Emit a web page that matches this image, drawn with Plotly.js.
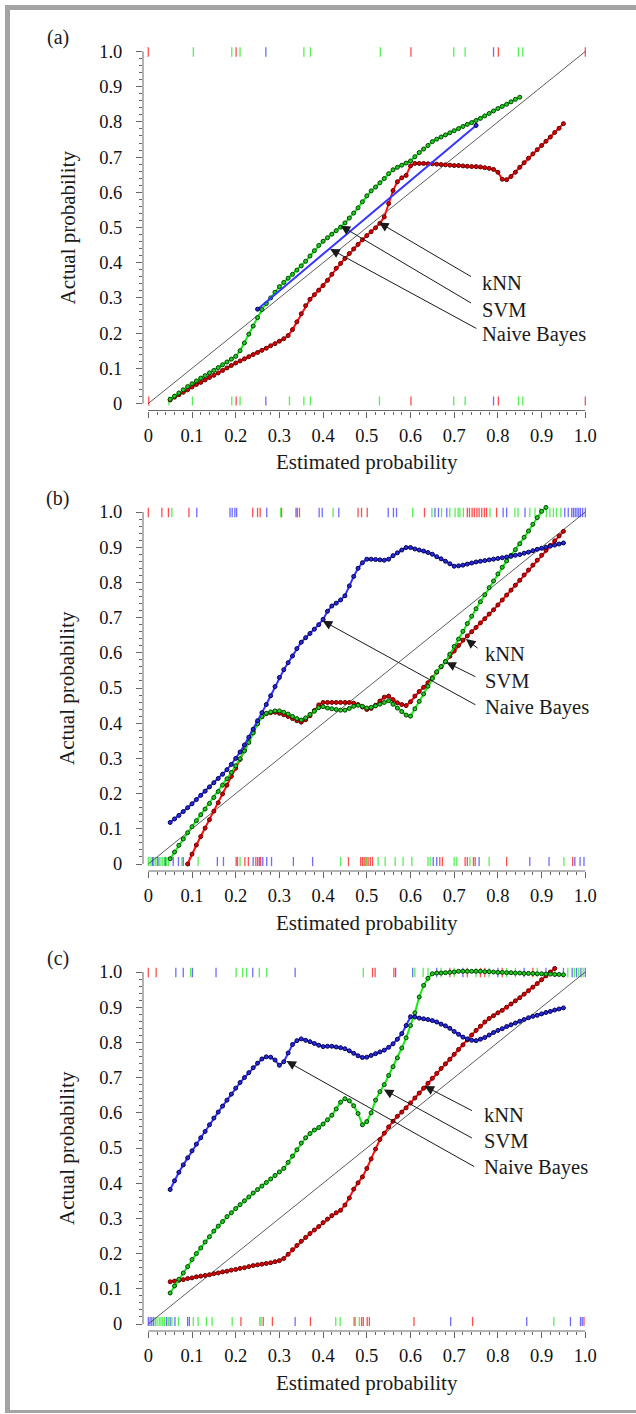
<!DOCTYPE html>
<html><head><meta charset="utf-8">
<script src="https://cdn.plot.ly/plotly-3.0.1.min.js"></script>
<style>html,body{margin:0;padding:0;background:#fff;} #chart{width:636px;height:1414px;}</style>
</head><body><div id="chart"></div>
<script>
// ---------------- DATA ----------------
const xGrid=[0.05,0.06,0.07,0.08,0.09,0.10,0.11,0.12,0.13,0.14,
0.15,0.16,0.17,0.18,0.19,0.20,0.21,0.22,0.23,0.24,
0.25,0.26,0.27,0.28,0.29,0.30,0.31,0.32,0.33,0.34,
0.35,0.36,0.37,0.38,0.39,0.40,0.41,0.42,0.43,0.44,
0.45,0.46,0.47,0.48,0.49,0.50,0.51,0.52,0.53,0.54,
0.55,0.56,0.57,0.58,0.59,0.60,0.61,0.62,0.63,0.64,
0.65,0.66,0.67,0.68,0.69,0.70,0.71,0.72,0.73,0.74,
0.75,0.76,0.77,0.78,0.79,0.80,0.81,0.82,0.83,0.84,
0.85,0.86,0.87,0.88,0.89,0.90,0.91,0.92,0.93,0.94,0.95];

const tickVals=[0,0.1,0.2,0.3,0.4,0.5,0.6,0.7,0.8,0.9,1.0];
const tickText=['0','0.1','0.2','0.3','0.4','0.5','0.6','0.7','0.8','0.9','1.0'];
const seriesNames=['kNN','SVM','Naive Bayes'];
const panelLabels=['(a)','(b)','(c)'];
const xTitle='Estimated probability';
const yTitle='Actual probability';

// Panel (a)
const aKNN=[0.010,0.018,0.025,0.032,0.039,0.047,0.054,0.060,0.067,0.074,
0.080,0.087,0.094,0.101,0.108,0.115,0.121,0.127,0.133,0.139,
0.145,0.151,0.157,0.164,0.170,0.177,0.184,0.193,0.210,0.232,
0.255,0.278,0.296,0.309,0.322,0.335,0.350,0.367,0.384,0.398,
0.412,0.426,0.439,0.452,0.465,0.477,0.488,0.499,0.512,0.530,
0.568,0.605,0.630,0.641,0.648,0.675,0.682,0.682,0.682,0.681,
0.681,0.680,0.679,0.678,0.677,0.676,0.676,0.675,0.674,0.673,
0.673,0.672,0.670,0.668,0.665,0.657,0.637,0.636,0.645,0.657,
0.671,0.684,0.697,0.709,0.721,0.733,0.745,0.757,0.770,0.782,0.795];
const aSVM=[0.012,0.021,0.030,0.039,0.048,0.056,0.064,0.072,0.079,0.087,
0.094,0.102,0.110,0.118,0.126,0.134,0.150,0.172,0.197,0.220,
0.244,0.267,0.284,0.300,0.316,0.332,0.344,0.356,0.367,0.379,
0.391,0.404,0.419,0.434,0.449,0.461,0.471,0.481,0.491,0.501,
0.513,0.527,0.541,0.556,0.573,0.590,0.604,0.615,0.627,0.639,
0.653,0.664,0.671,0.677,0.683,0.689,0.701,0.713,0.723,0.733,
0.744,0.751,0.757,0.763,0.769,0.775,0.781,0.787,0.793,0.798,
0.804,0.810,0.817,0.824,0.831,0.838,0.844,0.850,0.857,0.864,
0.870,null,null,null,null,null,null,null,null,null,null];
const aNBx=[0.25,0.75];
const aNBy=[0.268,0.790];

// Panel (b)
const bNB=[0.118,0.128,0.138,0.149,0.160,0.171,0.183,0.195,0.207,0.219,
0.231,0.243,0.255,0.268,0.283,0.300,0.318,0.338,0.360,0.383,
0.407,0.430,0.453,0.478,0.504,0.530,0.552,0.572,0.591,0.612,
0.630,0.643,0.655,0.667,0.680,0.695,0.718,0.733,0.741,0.750,
0.762,0.790,0.817,0.840,0.856,0.866,0.866,0.865,0.864,0.863,
0.866,0.876,0.884,0.892,0.899,0.899,0.895,0.892,0.889,0.885,
0.880,0.873,0.867,0.860,0.853,0.846,0.847,0.849,0.852,0.855,
0.858,0.860,0.862,0.864,0.866,0.868,0.870,0.872,0.874,0.877,
0.879,0.883,0.886,0.890,0.894,0.897,0.900,0.903,0.906,0.909,0.912];
const bKNN=[null,null,null,null,0.000,0.028,0.054,0.078,0.102,0.126,
0.150,0.174,0.199,0.224,0.249,0.272,0.297,0.323,0.350,0.377,
0.402,0.418,0.427,0.430,0.431,0.428,0.424,0.419,0.413,0.407,
0.403,0.410,0.421,0.436,0.452,0.459,0.459,0.459,0.459,0.459,
0.459,0.459,0.457,0.453,0.446,0.439,0.442,0.451,0.463,0.474,
0.477,0.467,0.458,0.453,0.450,0.461,0.477,0.490,0.502,0.515,
0.529,0.545,0.560,0.575,0.590,0.605,0.621,0.636,0.648,0.660,
0.672,0.685,0.697,0.710,0.722,0.736,0.750,0.764,0.778,0.792,
0.806,0.821,0.835,0.849,0.863,0.877,0.891,0.905,0.918,0.932,0.945];
const bSVM=[0.015,0.034,0.053,0.071,0.089,0.106,0.123,0.140,0.156,0.172,
0.189,0.206,0.224,0.242,0.260,0.279,0.299,0.321,0.345,0.372,
0.398,0.419,0.428,0.432,0.435,0.435,0.431,0.426,0.419,0.413,
0.409,0.415,0.425,0.434,0.444,0.447,0.443,0.441,0.439,0.437,
0.437,0.442,0.448,0.451,0.448,0.443,0.445,0.449,0.454,0.459,
0.464,0.454,0.443,0.433,0.423,0.420,0.441,0.462,0.483,0.505,
0.527,0.546,0.561,0.575,0.596,0.618,0.639,0.661,0.683,0.704,
0.725,0.745,0.765,0.785,0.804,0.824,0.843,0.861,0.877,0.893,
0.910,0.928,0.946,0.965,0.984,1.002,1.013,null,null,null,null];

// Panel (c)
const cNB=[0.382,0.407,0.431,0.452,0.472,0.492,0.511,0.529,0.547,0.566,
0.585,0.602,0.619,0.636,0.653,0.670,0.686,0.700,0.714,0.728,
0.741,0.753,0.759,0.758,0.750,0.735,0.745,0.770,0.794,0.805,
0.810,0.806,0.802,0.797,0.792,0.788,0.789,0.789,0.787,0.785,
0.782,0.776,0.769,0.762,0.757,0.758,0.763,0.768,0.773,0.778,
0.786,0.796,0.809,0.825,0.848,0.873,0.872,0.869,0.867,0.865,
0.862,0.858,0.852,0.847,0.840,0.831,0.823,0.815,0.810,0.806,
0.805,0.809,0.814,0.821,0.828,0.834,0.839,0.845,0.850,0.855,
0.860,0.865,0.870,0.874,0.877,0.881,0.885,0.888,0.892,0.895,0.898];
const cSVM=[0.088,0.108,0.127,0.145,0.163,0.183,0.200,0.216,0.233,0.248,
0.264,0.278,0.291,0.305,0.316,0.328,0.339,0.350,0.361,0.372,
0.382,0.392,0.402,0.412,0.422,0.432,0.442,0.459,0.477,0.495,
0.514,0.529,0.541,0.551,0.558,0.568,0.580,0.593,0.611,0.630,
0.640,0.634,0.620,0.598,0.566,0.575,0.600,0.636,0.660,0.680,
0.706,0.731,0.756,0.784,0.813,0.848,0.884,0.929,0.962,0.982,
0.995,0.997,0.997,0.998,0.999,1.000,1.002,1.002,1.002,1.002,
1.002,1.002,1.001,1.001,1.000,0.999,0.999,0.998,0.998,0.997,
0.997,0.996,0.996,0.996,0.995,0.995,0.994,0.994,0.993,0.993,0.992];
const cKNN=[0.120,0.122,0.124,0.126,0.129,0.131,0.134,0.136,0.138,0.140,
0.143,0.145,0.148,0.150,0.153,0.155,0.158,0.160,0.163,0.166,
0.168,0.170,0.172,0.174,0.177,0.180,0.186,0.198,0.211,0.223,
0.235,0.246,0.257,0.267,0.277,0.288,0.298,0.308,0.316,0.323,
0.338,0.358,0.383,0.401,0.418,0.442,0.469,0.497,0.524,0.542,
0.560,0.576,0.590,0.602,0.614,0.628,0.642,0.656,0.670,0.684,
0.698,0.712,0.726,0.739,0.752,0.766,0.780,0.793,0.807,0.821,
0.834,0.846,0.858,0.868,0.876,0.884,0.891,0.900,0.909,0.918,
0.927,0.937,0.947,0.957,0.967,0.978,0.989,1.000,1.010,null,null];

// Rug marks (estimated probabilities of individual cases)
const aTopRed=[0.0,0.201,0.601,0.801,1.0];
const aTopGreen=[0.103,0.191,0.210,0.356,0.371,0.531,0.699,0.725,0.847,0.857];
const aTopBlue=[0.269,0.790];
const aBotRed=[0.001,0.201,0.601,0.801,1.0];
const aBotGreen=[0.047,0.101,0.191,0.210,0.323,0.356,0.371,0.529,0.699,0.725,0.847,0.857];
const aBotBlue=[0.269,0.790];

const bTopRed=[0.0,0.031,0.046,0.093,0.239,0.250,0.256,0.305,0.341,0.346,0.480,0.488,0.501,0.632,0.730,0.735,0.741,0.746,0.752,0.757,0.763,0.769,0.774,0.797];
const bTopGreen=[0.054,0.303,0.423,0.605,0.649,0.671,0.690,0.702,0.709,0.713,0.721,0.782,0.839,0.846,0.873,0.885,0.896,0.911,0.919,0.927,0.934,0.944];
const bTopBlue=[0.111,0.187,0.192,0.198,0.202,0.271,0.338,0.391,0.398,0.436,0.549,0.561,0.568,0.656,0.664,0.683,0.812,0.820,0.862,0.953,0.961,0.969,0.973,0.977,0.981,0.985,0.989,0.994,1.0];
const bBotRed=[0.201,0.204,0.221,0.229,0.246,0.250,0.257,0.458,0.486,0.490,0.494,0.498,0.503,0.508,0.513,0.667,0.673,0.725,0.730,0.744,0.748,0.820,0.971];
const bBotGreen=[0.0,0.004,0.008,0.012,0.016,0.020,0.025,0.029,0.033,0.037,0.042,0.046,0.077,0.114,0.210,0.440,0.500,0.526,0.542,0.565,0.583,0.603,0.640,0.645,0.700,0.706,0.736,0.780,0.951];
const bBotBlue=[0.010,0.022,0.039,0.057,0.069,0.080,0.094,0.158,0.172,0.240,0.254,0.262,0.271,0.282,0.332,0.376,0.652,0.660,0.757,0.873,0.917,0.976,0.988,0.997];

const cTopRed=[0.0,0.018,0.513,0.519,0.562,0.690,0.730,0.760,0.770,0.810,0.880];
const cTopGreen=[0.097,0.201,0.216,0.225,0.254,0.271,0.492,0.610,0.629,0.640,0.670,0.700,0.750,0.780,0.820,0.840,0.890,0.930,0.960,0.975,0.985,0.995];
const cTopBlue=[0.063,0.080,0.101,0.155,0.239,0.336,0.566,0.605,0.660,0.720,0.800,0.860,0.910,0.950,0.970,0.980,0.990,1.0];
const cBotRed=[0.212,0.263,0.284,0.371,0.471,0.488,0.492,0.501,0.506,0.608,0.742,0.997];
const cBotGreen=[0.016,0.020,0.025,0.029,0.033,0.037,0.046,0.054,0.069,0.103,0.114,0.133,0.146,0.192,0.255,0.258,0.429,0.439,0.474,0.483,0.928];
const cBotBlue=[0.0,0.004,0.008,0.012,0.042,0.050,0.061,0.090,0.094,0.336,0.692,0.866,0.966,0.989,0.993];

// ---------------- LAYOUT / STYLE ----------------
const W=636,H=1414;
const FONT='"Liberation Serif","Times New Roman",serif';
const X0=148.3,X1=585.3,PL=143,PR=592;
const panelPx=[{one:51.5,zero:403.5},{one:512,zero:864},{one:972,zero:1324}];
const AXC='#666';
const COL={
  knn:{line:'#ff1010',fill:'#e00000',edge:'#600000',rug:'rgba(255,20,20,0.75)'},
  svm:{line:'#10f010',fill:'#20d020',edge:'#004000',rug:'rgba(30,235,30,0.75)'},
  nb:{line:'#3535ff',fill:'#2a2ae0',edge:'#000050',rug:'rgba(60,60,255,0.75)'}
};

const panelData=[
 {knn:[xGrid,aKNN],svm:[xGrid,aSVM],nb:[aNBx,aNBy],
  rugTop:{knn:aTopRed,svm:aTopGreen,nb:aTopBlue},rugBot:{knn:aBotRed,svm:aBotGreen,nb:aBotBlue},
  arrows:{knn:[0.528,0.514,0.742,0.358],svm:[0.440,0.505,0.742,0.283],nb:[0.416,0.439,0.754,0.211]},
  labels:{x:0.760,knn:0.342,svm:0.267,nb:0.196}},
 {knn:[xGrid,bKNN],svm:[xGrid,bSVM],nb:[xGrid,bNB],
  rugTop:{knn:bTopRed,svm:bTopGreen,nb:bTopBlue},rugBot:{knn:bBotRed,svm:bBotGreen,nb:bBotBlue},
  arrows:{knn:[0.727,0.639,0.757,0.610],svm:[0.682,0.573,0.752,0.530],nb:[0.399,0.691,0.752,0.450]},
  labels:{x:0.766,knn:0.596,svm:0.521,nb:0.445}},
 {knn:[xGrid,cKNN],svm:[xGrid,cSVM],nb:[xGrid,cNB],
  rugTop:{knn:cTopRed,svm:cTopGreen,nb:cTopBlue},rugBot:{knn:cBotRed,svm:cBotGreen,nb:cBotBlue},
  arrows:{knn:[0.632,0.676,0.744,0.604],svm:[0.539,0.666,0.744,0.526],nb:[0.316,0.747,0.749,0.445]},
  labels:{x:0.763,knn:0.595,svm:0.521,nb:0.445}}
];

const minorVals=[];
for(let i=1;i<50;i++){ if(i%5!==0) minorVals.push(i/50); }

const traces=[];
const layout={width:W,height:H,margin:{l:0,r:0,t:0,b:0},paper_bgcolor:'#fff',plot_bgcolor:'rgba(0,0,0,0)',
  showlegend:false,hovermode:false,shapes:[],annotations:[]};

function rug(vals,lo,hi,color,xa,ya){
  const x=[],y=[];
  vals.forEach(v=>{x.push(v,v,null);y.push(lo,hi,null);});
  return {type:'scatter',mode:'lines',x:x,y:y,xaxis:xa,yaxis:ya,line:{color:color,width:1.3},hoverinfo:'skip',cliponaxis:false};
}

panelData.forEach((pd,k)=>{
  const n=k===0?'':String(k+1);
  const xa='x'+n, ya='y'+n;
  const P=panelPx[k];
  const ppu=P.zero-P.one;
  const bottom=P.zero+7, top=P.one-10;
  const xr=[(PL-X0)/(X1-X0),(PR-X0)/(X1-X0)];
  const yr=[-(bottom-P.zero)/ppu,1+(P.one-top)/ppu];
  const axCommon={tickmode:'array',tickvals:tickVals,ticktext:tickText,ticks:'outside',ticklen:6,tickwidth:1,tickcolor:AXC,
    showgrid:false,zeroline:false,showline:false,fixedrange:true,
    tickfont:{family:FONT,size:18.5,color:'#111'},
    minor:{tickmode:'array',tickvals:minorVals,ticks:'outside',ticklen:3,tickwidth:1,tickcolor:AXC,showgrid:false}};
  layout['xaxis'+n]=Object.assign({},axCommon,{domain:[PL/W,PR/W],range:xr,anchor:ya,ticklabelstandoff:2});
  layout['yaxis'+n]=Object.assign({},axCommon,{domain:[1-bottom/H,1-top/H],range:yr,anchor:xa,ticklabelstandoff:10});
  layout.shapes.push({type:'line',xref:xa,yref:ya+' domain',x0:0,x1:1,y0:0,y1:0,line:{color:AXC,width:1}});
  layout.shapes.push({type:'line',xref:xa+' domain',yref:ya,x0:0,x1:0,y0:0,y1:1,line:{color:AXC,width:1}});
  ['knn','svm','nb'].forEach(s=>{
    traces.push(rug(pd.rugTop[s],0.985,1.012,COL[s].rug,xa,ya));
    traces.push(rug(pd.rugBot[s],-0.006,0.02,COL[s].rug,xa,ya));
  });
  traces.push({type:'scatter',mode:'lines',x:[0,1],y:[0,1],xaxis:xa,yaxis:ya,line:{color:'#333',width:0.8},hoverinfo:'skip'});
  ['knn','svm','nb'].forEach((s,i)=>{
    traces.push({type:'scatter',mode:'lines+markers',name:seriesNames[i],x:pd[s][0],y:pd[s][1],xaxis:xa,yaxis:ya,
      line:{color:COL[s].line,width:2},
      marker:{symbol:'circle',size:4,color:COL[s].fill,line:{color:COL[s].edge,width:1}},
      connectgaps:false,cliponaxis:true});
  });
  ['knn','svm','nb'].forEach((s,i)=>{
    const a=pd.arrows[s];
    layout.annotations.push({xref:xa,yref:ya,axref:xa,ayref:ya,x:a[0],y:a[1],ax:a[2],ay:a[3],text:'',
      showarrow:true,arrowhead:2,arrowsize:1.9,arrowwidth:1,arrowcolor:'#1a1a1a',standoff:0,startstandoff:0});
    layout.annotations.push({xref:xa,yref:ya,x:pd.labels.x,y:pd.labels[s],text:seriesNames[i],showarrow:false,
      xanchor:'left',yanchor:'middle',font:{family:FONT,size:20.5,color:'#1a1a1a'}});
  });
  layout.annotations.push({xref:'paper',yref:'paper',x:58/W,y:1-(P.one-14)/H,text:panelLabels[k],showarrow:false,
    xanchor:'center',yanchor:'middle',font:{family:FONT,size:20,color:'#1a1a1a'}});
  layout.annotations.push({xref:'paper',yref:'paper',x:(X0+X1)/2/W,y:1-(P.zero+59)/H,text:xTitle,showarrow:false,
    xanchor:'center',yanchor:'middle',font:{family:FONT,size:21,color:'#1a1a1a'}});
  layout.annotations.push({xref:'paper',yref:'paper',x:67/W,y:1-((P.zero+P.one)/2)/H,text:yTitle,showarrow:false,textangle:-90,
    xanchor:'center',yanchor:'middle',font:{family:FONT,size:21,color:'#1a1a1a'}});
});

const GR='#a3a3a3';
layout.shapes.push({type:'rect',xref:'paper',yref:'paper',x0:5/W,x1:10/W,y0:1-1413/H,y1:1-5/H,fillcolor:GR,line:{width:0}});
layout.shapes.push({type:'rect',xref:'paper',yref:'paper',x0:5/W,x1:1,y0:1-10/H,y1:1-5/H,fillcolor:GR,line:{width:0}});
layout.shapes.push({type:'rect',xref:'paper',yref:'paper',x0:5/W,x1:1,y0:1-1413/H,y1:1-1410/H,fillcolor:GR,line:{width:0}});

Plotly.newPlot('chart',traces,layout,{staticPlot:true,displayModeBar:false});
</script>
</body></html>
